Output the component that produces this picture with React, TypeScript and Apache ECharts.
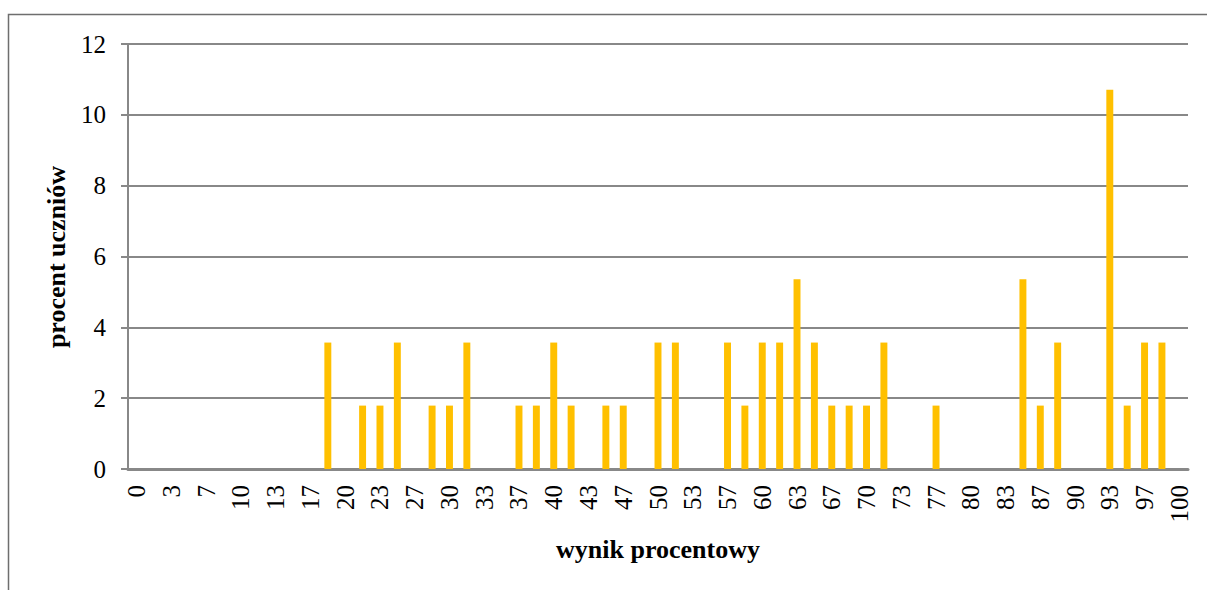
import React, { useEffect, useRef } from "react";
import * as echarts from "echarts";

const categories: string[] = [
  "0", "2", "3", "5", "7", "8", "10", "12", "13", "15", "17", "18", "20", "22", "23", "25",
  "27", "28", "30", "32", "33", "35", "37", "38", "40", "42", "43", "45", "47", "48", "50",
  "52", "53", "55", "57", "58", "60", "62", "63", "65", "67", "68", "70", "72", "73", "75",
  "77", "78", "80", "82", "83", "85", "87", "88", "90", "92", "93", "95", "97", "98", "100",
];

const values: number[] = [
  0, 0, 0, 0, 0, 0, 0, 0, 0, 0, 0, 3.57, 0, 1.79, 1.79, 3.57,
  0, 1.79, 1.79, 3.57, 0, 0, 1.79, 1.79, 3.57, 1.79, 0, 1.79, 1.79, 0, 3.57,
  3.57, 0, 0, 3.57, 1.79, 3.57, 3.57, 5.36, 3.57, 1.79, 1.79, 1.79, 3.57, 0, 0,
  1.79, 0, 0, 0, 0, 5.36, 1.79, 3.57, 0, 0, 10.71, 1.79, 3.57, 3.57, 0,
];

const yTitle = "procent uczniów";
const xTitle = "wynik procentowy";

const FONT = "Liberation Serif";
const GRAY = "#888888";

export default function App() {
  const ref = useRef<HTMLDivElement>(null);

  useEffect(() => {
    if (!ref.current) return;
    const chart = echarts.init(ref.current, undefined, { renderer: "svg" });
    chart.setOption({
      animation: false,
      backgroundColor: "#ffffff",
      textStyle: { fontFamily: FONT },
      grid: { left: 128, right: 19, top: 44, bottom: 121, containLabel: false },
      xAxis: {
        type: "category",
        data: categories,
        boundaryGap: true,
        axisLine: { show: true, lineStyle: { color: GRAY, width: 3 } },
        axisTick: { show: false },
        axisLabel: {
          interval: 1,
          rotate: 90,
          margin: 16,
          fontSize: 25,
          fontFamily: FONT,
          color: "#000000",
        },
        splitLine: { show: false },
      },
      yAxis: {
        type: "value",
        min: 0,
        max: 12,
        interval: 2,
        axisLine: { show: true, lineStyle: { color: GRAY, width: 2 } },
        axisTick: { show: true, length: 7, lineStyle: { color: GRAY, width: 2 } },
        axisLabel: {
          margin: 22,
          fontSize: 25,
          fontFamily: FONT,
          color: "#000000",
        },
        splitLine: { show: true, lineStyle: { color: GRAY, width: 2 } },
      },
      series: [
        {
          type: "bar",
          data: values,
          barWidth: "40%",
          itemStyle: { color: "#FFC000" },
        },
      ],
      graphic: [
        {
          type: "rect",
          shape: { x: 8.5, y: 14.5, width: 1400, height: 800 },
          style: { fill: "none", stroke: "#6e6e6e", lineWidth: 1.5 },
          silent: true,
        },
        {
          type: "text",
          x: 56,
          y: 257,
          rotation: Math.PI / 2,
          style: {
            text: yTitle,
            fontSize: 26,
            fontWeight: "bold",
            fontFamily: FONT,
            fill: "#000000",
            align: "center",
            verticalAlign: "middle",
          },
        },
        {
          type: "text",
          x: 658,
          y: 549,
          style: {
            text: xTitle,
            fontSize: 26,
            fontWeight: "bold",
            fontFamily: FONT,
            fill: "#000000",
            align: "center",
            verticalAlign: "middle",
          },
        },
      ],
    });
    return () => chart.dispose();
  }, []);

  return (
    <div
      ref={ref}
      style={{ position: "fixed", left: 0, top: 0, width: 1207, height: 590 }}
    />
  );
}
